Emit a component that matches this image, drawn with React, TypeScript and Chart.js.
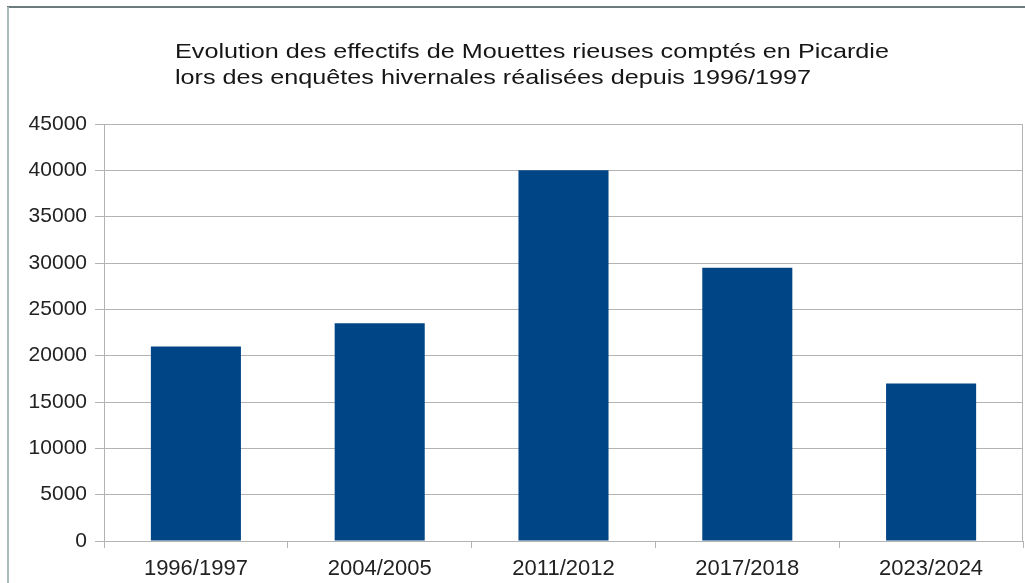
import React, { useEffect, useRef } from "react";
import { Chart, registerables } from "chart.js";

Chart.register(...registerables);

const TITLE_LINES = [
  "Evolution des effectifs de Mouettes rieuses comptés en Picardie",
  "lors des enquêtes hivernales réalisées depuis 1996/1997",
];
const CATEGORIES = ["1996/1997", "2004/2005", "2011/2012", "2017/2018", "2023/2024"];
const COUNTS = [21000, 23500, 40000, 29500, 17000];
const Y_MIN = 0;
const Y_MAX = 45000;
const Y_STEP = 5000;

const W = 1025;
const H = 583;
const FONT = "'Liberation Sans', Arial, sans-serif";

export default function App() {
  const ref = useRef<HTMLCanvasElement>(null);

  useEffect(() => {
    const canvas = ref.current;
    if (!canvas) return;

    const framePlugin = {
      id: "frame",
      beforeDraw(chart: any) {
        const ctx = chart.ctx;
        ctx.save();
        ctx.fillStyle = "#ffffff";
        ctx.fillRect(0, 0, W, H);
        ctx.fillStyle = "#6b7b7b";
        ctx.fillRect(7, 6, W - 7, 2);
        ctx.fillStyle = "#a9bcbc";
        ctx.fillRect(7, 7, 2, H - 7);
        ctx.restore();
      },
      afterDraw(chart: any) {
        const ctx = chart.ctx;
        const a = chart.chartArea;
        ctx.save();
        ctx.strokeStyle = "#b3b3b3";
        ctx.lineWidth = 1;
        ctx.beginPath();
        ctx.moveTo(Math.round(a.right) - 0.5, a.top);
        ctx.lineTo(Math.round(a.right) - 0.5, a.bottom);
        ctx.stroke();
        ctx.font = `21px ${FONT}`;
        ctx.fillStyle = "#161616";
        ctx.textBaseline = "alphabetic";
        ctx.textAlign = "left";
        TITLE_LINES.forEach((t, i) => {
          ctx.save();
          ctx.translate(175, 58 + i * 26);
          ctx.scale(1.2, 1);
          ctx.fillText(t, 0, 0);
          ctx.restore();
        });
        ctx.restore();
      },
    };

    const chart = new Chart(canvas, {
      type: "bar",
      data: {
        labels: CATEGORIES,
        datasets: [
          {
            data: COUNTS,
            backgroundColor: "#004586",
            borderWidth: 0,
            categoryPercentage: 1,
            barPercentage: 0.49,
          },
        ],
      },
      options: {
        responsive: false,
        animation: false,
        layout: { padding: { left: 0, right: 2, top: 124, bottom: 0 } },
        plugins: {
          legend: { display: false },
          title: { display: false },
          tooltip: { enabled: false },
        },
        scales: {
          x: {
            grid: {
              display: true,
              drawOnChartArea: false,
              drawTicks: true,
              tickLength: 7,
              color: "#b3b3b3",
              offset: true,
            },
            border: { display: true, color: "#b3b3b3" },
            ticks: {
              color: "#222222",
              font: { family: FONT, size: 22 },
              padding: 8,
              maxRotation: 0,
              autoSkip: false,
            },
            afterFit: (s: any) => {
              s.height = 42;
            },
          },
          y: {
            min: Y_MIN,
            max: Y_MAX,
            ticks: {
              stepSize: Y_STEP,
              color: "#222222",
              font: { family: FONT, size: 21 },
              padding: 8,
              callback: (v: any) => String(v),
            },
            grid: { color: "#b3b3b3", tickLength: 9 },
            border: { color: "#b3b3b3" },
            afterFit: (s: any) => {
              s.width = 104;
            },
          },
        },
      },
      plugins: [framePlugin],
    });

    return () => chart.destroy();
  }, []);

  return (
    <div style={{ position: "absolute", left: 0, top: 0, width: W, height: H, overflow: "hidden" }}>
      <canvas ref={ref} width={W} height={H} style={{ width: W, height: H, display: "block" }} />
    </div>
  );
}
